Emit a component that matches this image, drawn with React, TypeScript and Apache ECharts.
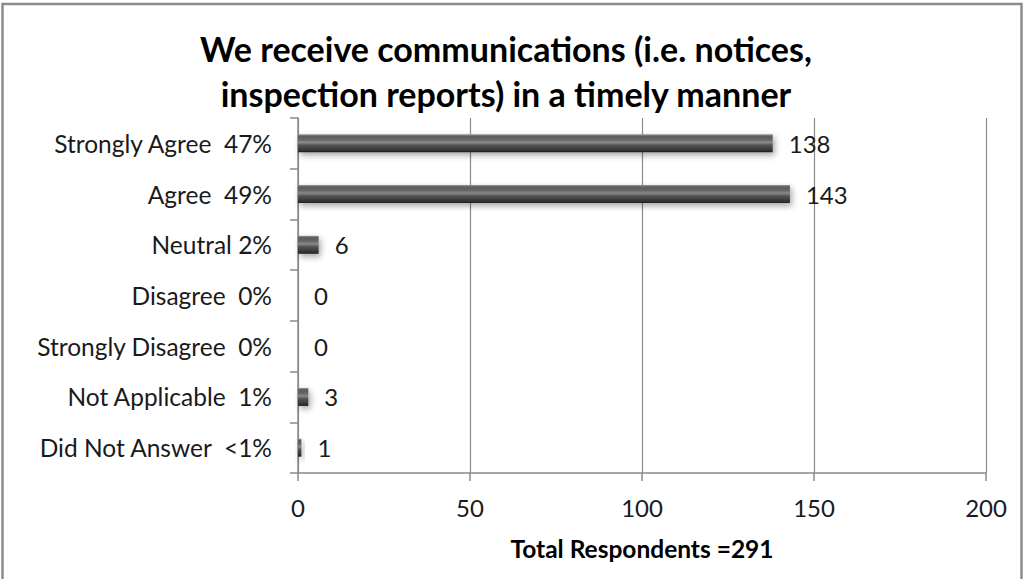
import React, { useEffect, useRef } from "react";
import * as echarts from "echarts";

const categories = [
  "Strongly Agree  47%",
  "Agree  49%",
  "Neutral 2%",
  "Disagree  0%",
  "Strongly Disagree  0%",
  "Not Applicable  1%",
  "Did Not Answer  <1%",
];
const counts = [138, 143, 6, 0, 0, 3, 1];
const titleLines = [
  "We receive communications (i.e. notices,",
  "inspection reports) in a timely manner",
];
const axisTitle = "Total Respondents =291";
const xMin = 0;
const xMax = 200;
const xStep = 50;

const FONT = "Lato";

export default function App() {
  const ref = useRef<HTMLDivElement>(null);
  useEffect(() => {
    if (!ref.current) return;
    const chart = echarts.init(ref.current, undefined, { renderer: "svg" });
    const barGradient = new echarts.graphic.LinearGradient(0, 0, 0, 1, [
      { offset: 0, color: "#9a9a9a" },
      { offset: 0.1, color: "#5c5c5c" },
      { offset: 0.3, color: "#666666" },
      { offset: 0.45, color: "#8a8a8a" },
      { offset: 0.6, color: "#555555" },
      { offset: 0.9, color: "#333333" },
      { offset: 1, color: "#1e1e1e" },
    ]);
    chart.setOption({
      animation: false,
      backgroundColor: "#ffffff",
      graphic: [
        {
          type: "rect",
          shape: { x: 2.5, y: 4, width: 1019, height: 600 },
          style: { fill: "none", stroke: "#8c8c8c", lineWidth: 2.5 },
          silent: true,
        },
        {
          type: "text",
          x: 506,
          y: 48,
          style: {
            text: titleLines[0],
            fontFamily: FONT,
            fontWeight: "bold",
            fontSize: 34,
            fill: "#000",
            align: "center",
            verticalAlign: "middle",
          },
        },
        {
          type: "text",
          x: 506,
          y: 93,
          style: {
            text: titleLines[1],
            fontFamily: FONT,
            fontWeight: "bold",
            fontSize: 34,
            fill: "#000",
            align: "center",
            verticalAlign: "middle",
          },
        },
      ],
      grid: { left: 298, right: 37, top: 118, bottom: 106, containLabel: false },
      xAxis: {
        type: "value",
        min: xMin,
        max: xMax,
        interval: xStep,
        axisLine: { show: true, lineStyle: { color: "#8a8a8a", width: 1.5 } },
        axisTick: { show: true, length: 8, lineStyle: { color: "#8a8a8a", width: 1.5 } },
        splitLine: { show: true, lineStyle: { color: "#8a8a8a", width: 1.2 } },
        axisLabel: {
          fontFamily: FONT,
          fontSize: 24,
          color: "#1a1a1a",
          margin: 22,
        },
        name: axisTitle,
        nameLocation: "middle",
        nameGap: 75,
        nameTextStyle: {
          fontFamily: FONT,
          fontWeight: "bold",
          fontSize: 24.5,
          color: "#000",
          verticalAlign: "middle",
        },
      },
      yAxis: {
        type: "category",
        inverse: true,
        data: categories,
        axisLine: { show: true, lineStyle: { color: "#8a8a8a", width: 1.5 } },
        axisTick: { show: true, length: 8, inside: false, lineStyle: { color: "#8a8a8a", width: 1.5 } },
        splitLine: { show: false },
        axisLabel: {
          fontFamily: FONT,
          fontSize: 24.5,
          color: "#1a1a1a",
          margin: 26,
        },
      },
      series: [
        {
          type: "bar",
          data: counts,
          barWidth: 18,
          itemStyle: {
            color: barGradient,
            shadowColor: "rgba(0,0,0,0.35)",
            shadowBlur: 6,
            shadowOffsetX: 2,
            shadowOffsetY: 3,
          },
          label: {
            show: true,
            position: "right",
            distance: 16,
            fontFamily: FONT,
            fontSize: 24,
            color: "#1a1a1a",
          },
        },
      ],
    });
    return () => chart.dispose();
  }, []);
  return (
    <div
      ref={ref}
      style={{ position: "fixed", left: 0, top: 0, width: 1023, height: 579, background: "#fff" }}
    />
  );
}
